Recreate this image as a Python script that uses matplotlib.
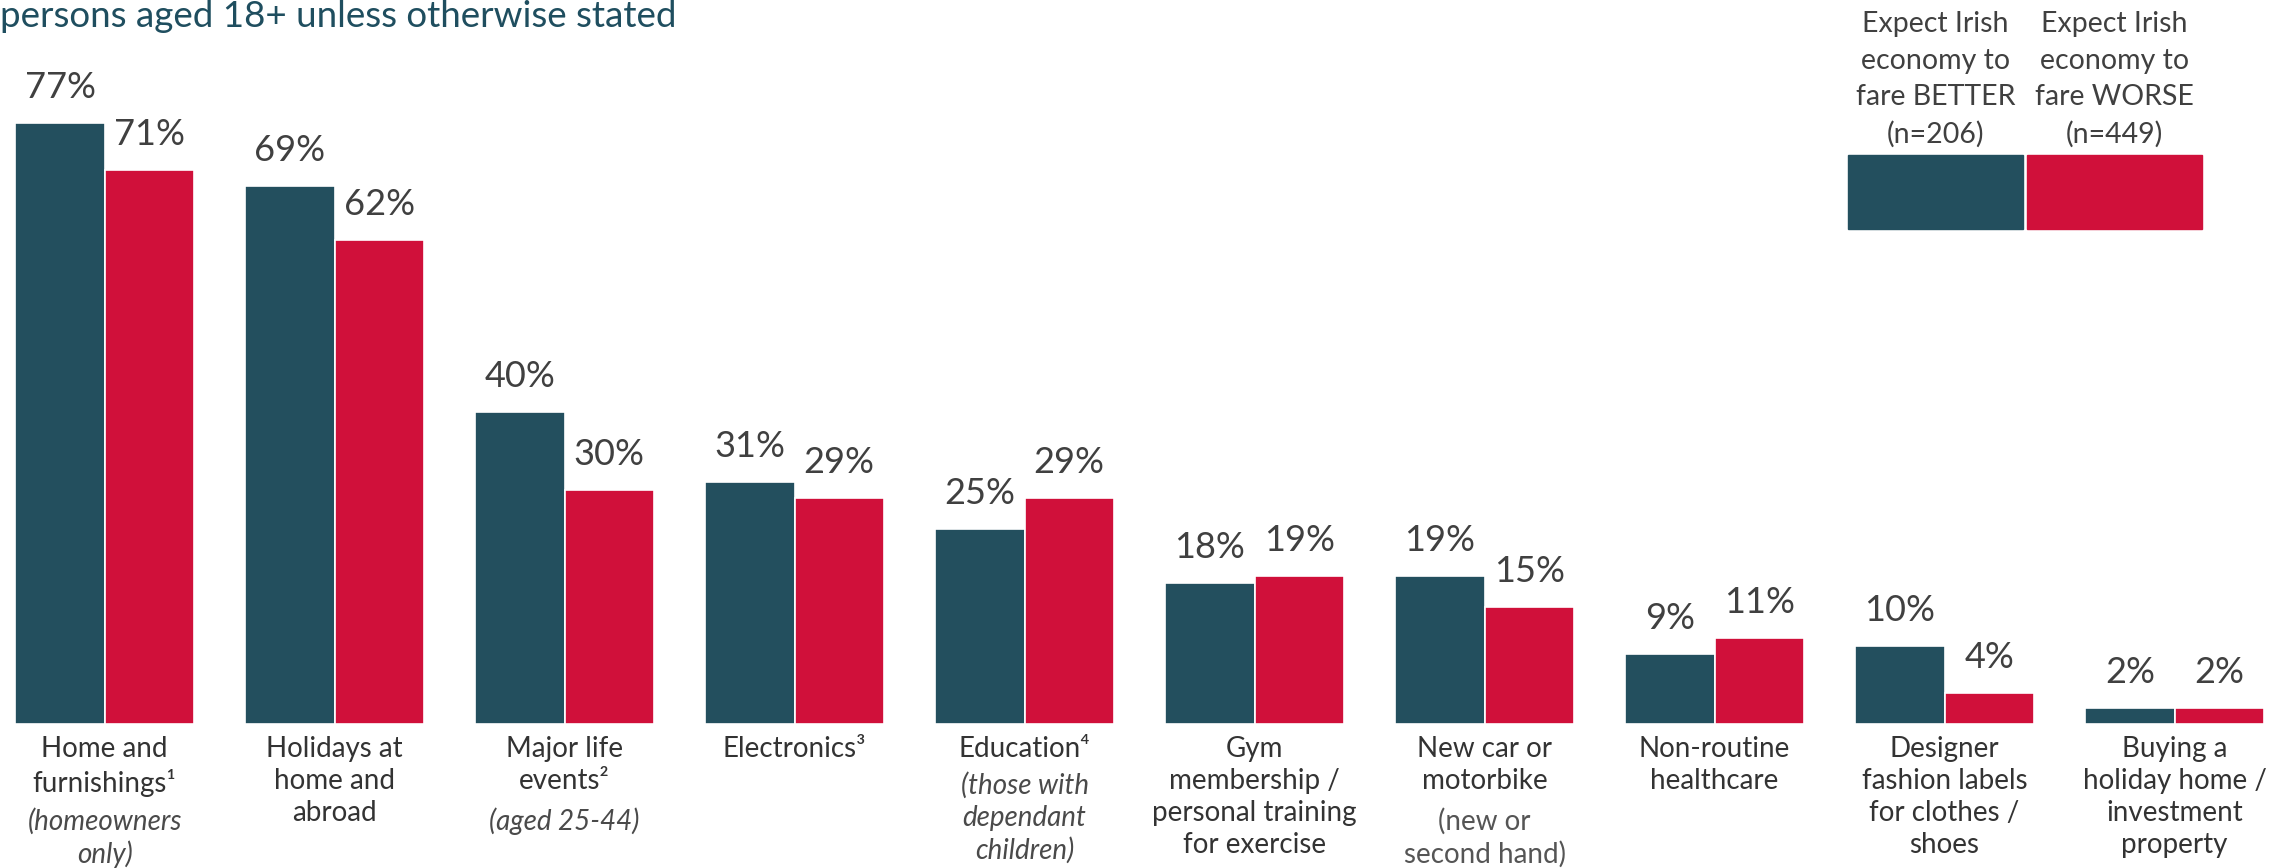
import matplotlib.pyplot as plt
from matplotlib.patches import Rectangle
import numpy as np

plt.rcParams['font.family'] = ['Lato', 'DejaVu Sans']

# data
labels = ["Home and\nfurnishings¹", "Holidays at\nhome and\nabroad", "Major life\nevents²",
          "Electronics³", "Education⁴", "Gym\nmembership /\npersonal training\nfor exercise",
          "New car or\nmotorbike", "Non-routine\nhealthcare",
          "Designer\nfashion labels\nfor clothes /\nshoes",
          "Buying a\nholiday home /\ninvestment\nproperty"]
sublabels = ["(homeowners\nonly)", "", "(aged 25-44)", "", "(those with\ndependant\nchildren)",
             "", "(new or\nsecond hand)", "", "", ""]
sub_italic = [True, False, True, False, True, False, False, False, False, False]
better = [77, 69, 40, 31, 25, 18, 19, 9, 10, 2]
worse = [71, 62, 30, 29, 29, 19, 15, 11, 4, 2]
series_names = ["Expect Irish\neconomy to\nfare BETTER\n(n=206)",
                "Expect Irish\neconomy to\nfare WORSE\n(n=449)"]

c_dark = '#234f5e'
c_red = '#d0103a'
txt = '#404040'

fig = plt.figure(figsize=(22.93, 8.68), dpi=100)
ax = fig.add_axes([0, 0.166, 1, 0.834])
x = np.arange(len(labels))
w = 0.388
b1 = ax.bar(x - w / 2, better, w, color=c_dark, edgecolor='white', linewidth=1.2)
b2 = ax.bar(x + w / 2, worse, w, color=c_red, edgecolor='white', linewidth=1.2)
ax.set_xlim(-0.455, 9.515)
ax.set_ylim(0, 92.8)
ax.axis('off')

for bars, vals in ((b1, better), (b2, worse)):
    for r, v in zip(bars, vals):
        ax.annotate(f"{v}%", (r.get_x() + r.get_width() / 2, v), xytext=(0, 18),
                    textcoords='offset points', ha='center', va='baseline',
                    fontsize=26, color=txt)

for i, (lab, sub) in enumerate(zip(labels, sublabels)):
    ax.annotate(lab, (i, 0), xytext=(0, -9), textcoords='offset points',
                ha='center', va='top', fontsize=20, color='#333333',
                linespacing=1.28, annotation_clip=False)
    if sub:
        n = lab.count('\n') + 1
        ax.annotate(sub, (i, 0), xytext=(0, -9 - n * 25.6), textcoords='offset points',
                    ha='center', va='top', fontsize=20,
                    color='#4a4a4a' if sub_italic[i] else '#555555',
                    style='italic' if sub_italic[i] else 'normal',
                    linespacing=1.28, annotation_clip=False)

# title (cut at top as in the original)
fig.text(0.0, 1 - 27 / 868, "persons aged 18+ unless otherwise stated", ha='left',
         va='baseline', fontsize=26.5, color='#1f4e5f')

# legend
for xc, col, name in ((1848, c_dark, series_names[0]), (2027, c_red, series_names[1])):
    fig.add_artist(Rectangle((xc / 2293, 1 - 229 / 868), 175 / 2293, 74 / 868,
                             transform=fig.transFigure, color=col))
    fig.text((xc + 87.5) / 2293, 1 - 148 / 868, name, ha='center', va='bottom',
             fontsize=20.5, color=txt, linespacing=1.5)

fig.savefig('out.png', dpi=100)
